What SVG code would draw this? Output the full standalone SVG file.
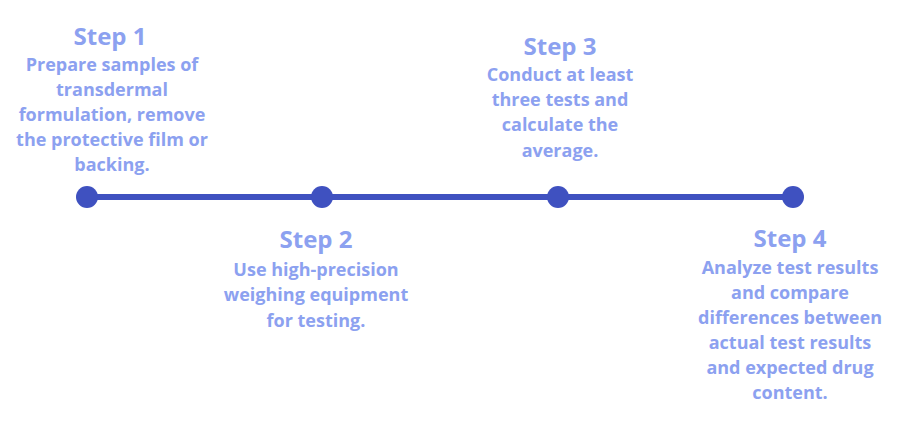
<svg xmlns="http://www.w3.org/2000/svg" width="905" height="428" viewBox="0 0 905 428">
<style>
text{font-family:"Open Sans","Liberation Sans",sans-serif;font-weight:bold;fill:#8ca1f0;text-anchor:middle}
.t{font-size:24px}
.b{font-size:18px}
.dot{fill:#3f51c0}
</style>
<rect width="905" height="428" fill="#fff"/>
<g id="connectors"><line x1="87" y1="197" x2="793" y2="197" stroke="#3f51c0" stroke-width="6"/></g>
<g id="step1"><circle class="dot" cx="87" cy="197" r="11"/>
<text class="t" x="110" y="45">Step 1</text>
<text class="b" x="112" y="71">Prepare samples of</text>
<text class="b" x="112" y="96">transdermal</text>
<text class="b" x="112" y="121">formulation,  remove</text>
<text class="b" x="112" y="146">the protective film or</text>
<text class="b" x="112" y="171">backing.</text></g>
<g id="step2"><circle class="dot" cx="322" cy="197" r="11"/>
<text class="t" x="316" y="248">Step 2</text>
<text class="b" x="316" y="276">Use high-precision</text>
<text class="b" x="316" y="301">weighing equipment</text>
<text class="b" x="316" y="327">for testing.</text></g>
<g id="step3"><circle class="dot" cx="558" cy="197" r="11"/>
<text class="t" x="560" y="55">Step 3</text>
<text class="b" x="560" y="81">Conduct at least</text>
<text class="b" x="560" y="106">three tests and</text>
<text class="b" x="560" y="131">calculate the</text>
<text class="b" x="560" y="157">average.</text></g>
<g id="step4"><circle class="dot" cx="793" cy="197" r="11"/>
<text class="t" x="790" y="247">Step 4</text>
<text class="b" x="790" y="274">Analyze test results</text>
<text class="b" x="790" y="299">and compare</text>
<text class="b" x="790" y="324">differences between</text>
<text class="b" x="790" y="349">actual test results</text>
<text class="b" x="790" y="374">and expected drug</text>
<text class="b" x="790" y="399">content.</text></g>
</svg>
